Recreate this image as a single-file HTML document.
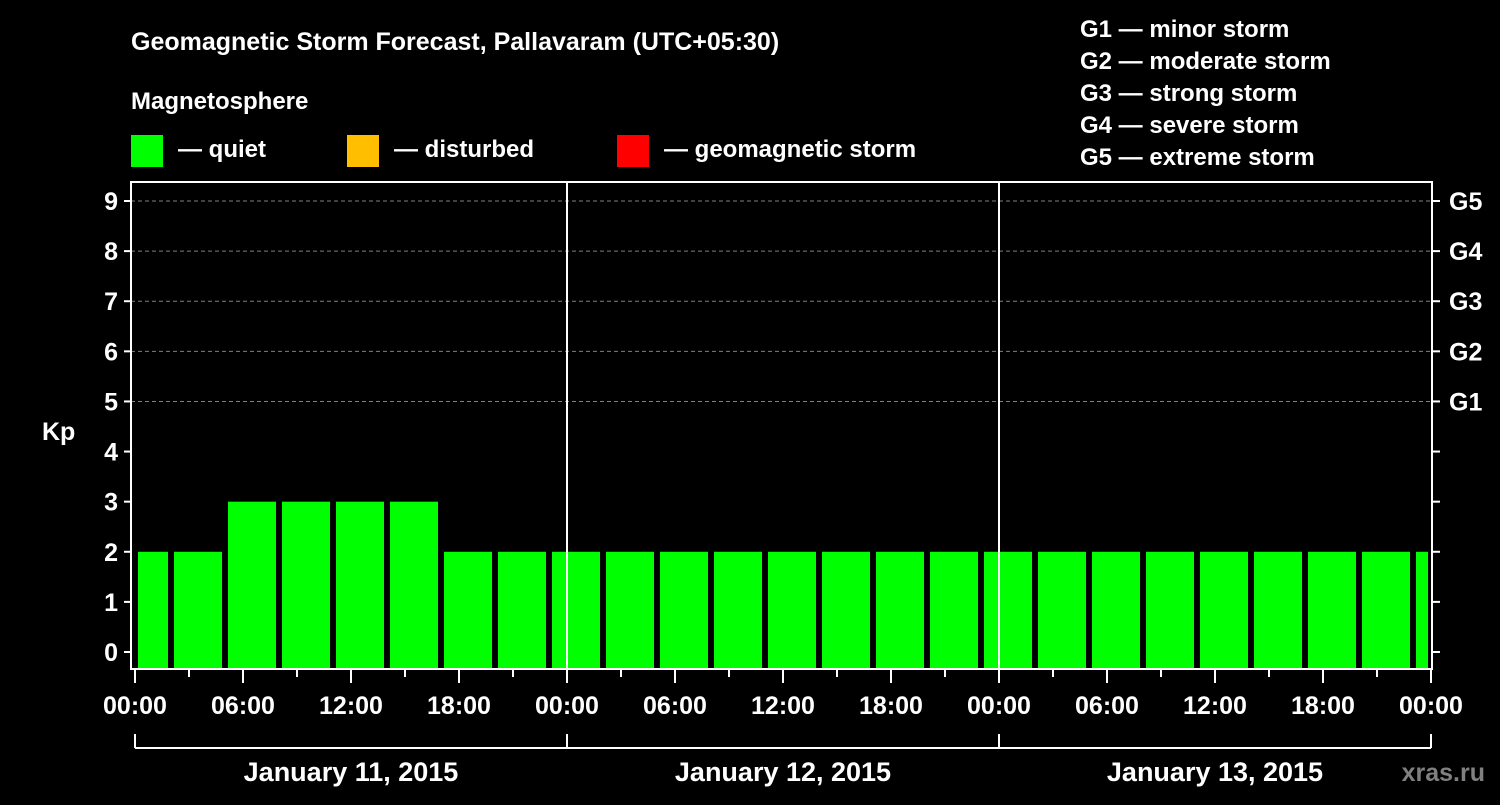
<!DOCTYPE html>
<html><head><meta charset="utf-8"><style>
body{margin:0;background:#000;width:1500px;height:800px;overflow:hidden;font-family:"Liberation Sans",sans-serif;font-weight:bold;color:#fff}
svg text{font-family:"Liberation Sans",sans-serif;font-weight:bold;fill:#fff}
</style></head><body>
<svg id="c" width="1500" height="800">
<text x="131" y="50" font-size="25">Geomagnetic Storm Forecast, Pallavaram (UTC+05:30)</text>
<text x="131" y="109" font-size="24">Magnetosphere</text>
<rect x="131" y="135" width="32" height="32" fill="#00ff00"/>
<text x="178" y="157" font-size="24">— quiet</text>
<rect x="347" y="135" width="32" height="32" fill="#ffbf00"/>
<text x="394" y="157" font-size="24">— disturbed</text>
<rect x="617" y="135" width="32" height="32" fill="#ff0000"/>
<text x="664" y="157" font-size="24">— geomagnetic storm</text>
<g font-size="24">
<text x="1080" y="37">G1 — minor storm</text>
<text x="1080" y="69">G2 — moderate storm</text>
<text x="1080" y="101">G3 — strong storm</text>
<text x="1080" y="133">G4 — severe storm</text>
<text x="1080" y="165">G5 — extreme storm</text>
</g>
<text x="42" y="440" font-size="25">Kp</text>
<text x="1485" y="781" font-size="25" text-anchor="end" style="fill:#808080">xras.ru</text>
<g id="plot"></g>
</svg>
<script>
const kpValues=[2,2,3,3,3,3,2,2,2,2,2,2,2,2,2,2,2,2,2,2,2,2,2,2,2];
const yTicks=[0,1,2,3,4,5,6,7,8,9];
const gLabels=["G1","G2","G3","G4","G5"];
const hourLabels=["00:00","06:00","12:00","18:00"];
const dayLabels=["January 11, 2015","January 12, 2015","January 13, 2015"];
const NS="http://www.w3.org/2000/svg";
const L=131,R=1432,T=182,B=669,X0=135,HPX=18;
const xs=h=>X0+h*HPX;
const ys=v=>652-v*(451/9);
const g=document.getElementById('plot');
function mk(tag,a,p){const e=document.createElementNS(NS,tag);for(const k in a)e.setAttribute(k,a[k]);(p||g).appendChild(e);return e;}
// grid
for(let v=5;v<=9;v++){const e=mk('line',{x1:L,x2:R,y1:ys(v),y2:ys(v),stroke:'#808080','stroke-dasharray':'4,3','stroke-width':1});

}
// bars
kpValues.forEach((v,k)=>{let h0=Math.max(0,-1+3*k),h1=Math.min(72,2+3*k);
const x0=xs(h0)+3,x1=xs(h1)-3;
const col=v>=5?'#ff0000':(v>=4?'#ffbf00':'#00ff00');
const e=mk('rect',{x:x0,y:ys(v),width:x1-x0,height:B-ys(v)-1,fill:col});

});
// day separators
for(let d=1;d<3;d++){const e=mk('line',{x1:xs(24*d),x2:xs(24*d),y1:T,y2:B,stroke:'#fff','stroke-width':2});

}
// frame
const fr=mk('rect',{x:L,y:T,width:R-L,height:B-T,fill:'none',stroke:'#fff','stroke-width':2});


// y ticks
yTicks.forEach(v=>{mk('line',{x1:L-7,x2:L,y1:ys(v),y2:ys(v),stroke:'#fff','stroke-width':2});
mk('line',{x1:R,x2:R+8,y1:ys(v),y2:ys(v),stroke:'#fff','stroke-width':2});
const t=mk('text',{x:118,y:ys(v)+9,'font-size':25,'text-anchor':'end'});t.textContent=v;

});
gLabels.forEach((s,i)=>{const t=mk('text',{x:1449,y:ys(5+i)+9,'font-size':25});t.textContent=s;

});
// x ticks
for(let h=0;h<=72;h+=3){const major=h%6===0;mk('line',{x1:xs(h),x2:xs(h),y1:B,y2:B+(major?14:8),stroke:'#fff','stroke-width':2});}
for(let h=0;h<=72;h+=6){const t=mk('text',{x:xs(h),y:714,'font-size':25,'text-anchor':'middle'});t.textContent=hourLabels[(h/6)%4];

}
// day bracket
mk('line',{x1:xs(0),x2:xs(72),y1:748,y2:748,stroke:'#fff','stroke-width':2});
for(let d=0;d<=3;d++)mk('line',{x1:xs(24*d),x2:xs(24*d),y1:734,y2:748,stroke:'#fff','stroke-width':2});
dayLabels.forEach((s,d)=>{const t=mk('text',{x:xs(24*d+12),y:781,'font-size':27,'text-anchor':'middle'});t.textContent=s;

});
</script>
</body></html>
